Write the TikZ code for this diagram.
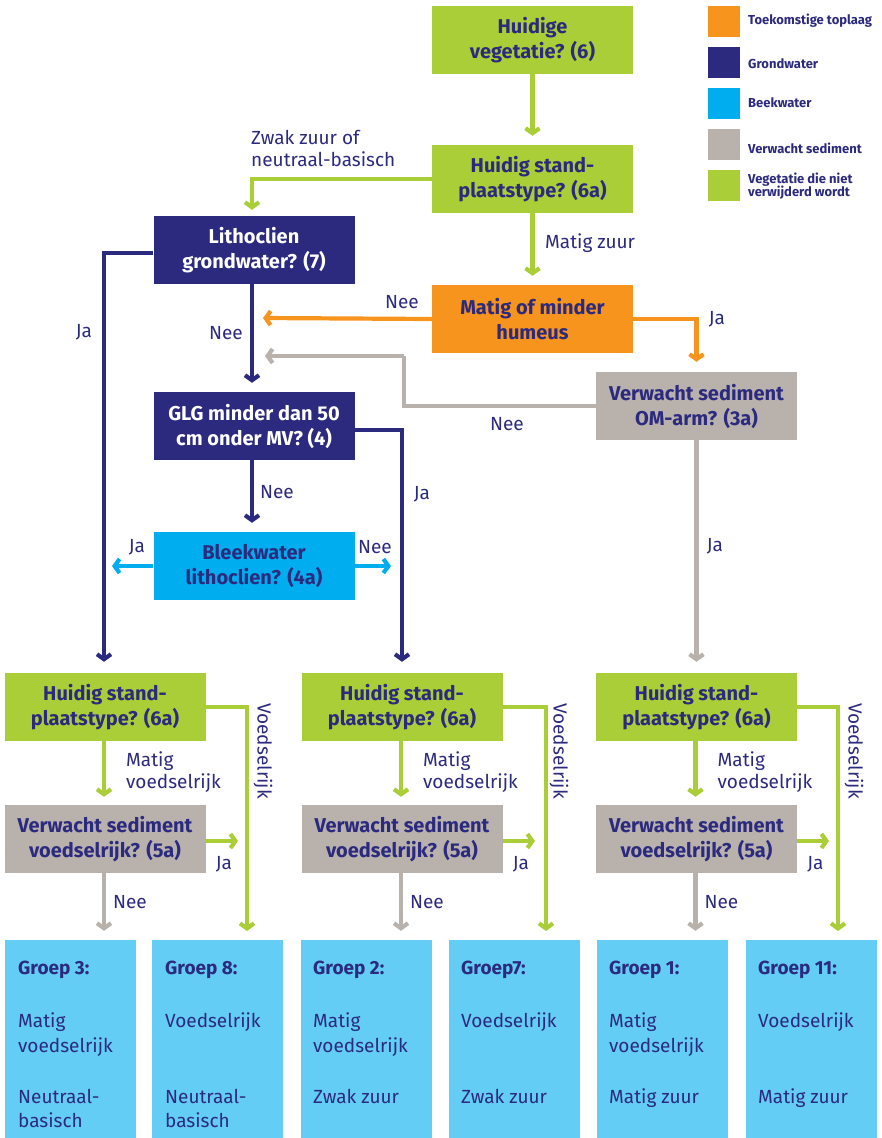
\documentclass[tikz,border=0pt]{standalone}
\usepackage{fontspec}
\setmainfont{Fira Sans}
\usetikzlibrary{arrows.meta}
\definecolor{cgreen}{HTML}{A9CE38}
\definecolor{cnavy}{HTML}{2C2A7E}
\definecolor{ccyan}{HTML}{00AEEF}
\definecolor{corange}{HTML}{F7941D}
\definecolor{cgray}{HTML}{B9B2AC}
\definecolor{csky}{HTML}{63CDF5}
\begin{document}
\begin{tikzpicture}[x=1pt,y=-1pt,
  box/.style={minimum width=201pt, minimum height=68pt, inner sep=0pt, align=center,
    font=\fontsize{20}{25}\selectfont\bfseries, text=cnavy},
  gbox/.style={draw=none, fill=csky, minimum width=131pt, minimum height=198pt, inner sep=0pt},
  arr/.style={line width=4.2pt, -{Straight Barb[length=5pt,width=14pt]}},
  seg/.style={line width=4.2pt},
  lbl/.style={font=\fontsize{19}{22}\selectfont, text=cnavy, inner sep=0pt, align=left},
  gt/.style={font=\fontsize{19}{24}\selectfont, text=cnavy, anchor=base west, inner sep=0pt},
  legsq/.style={minimum width=32pt, minimum height=31pt, inner sep=0pt},
  legt/.style={font=\fontsize{13}{14}\selectfont\bfseries, text=cnavy, anchor=west, inner sep=0pt, align=left},
]
\useasboundingbox (0,0) rectangle (881,1138);

% ---------- legend ----------
\node[legsq, fill=corange] (L1) at (724,21.5) {};
\node[legsq, fill=cnavy]   (L2) at (724,62.5) {};
\node[legsq, fill=ccyan]   (L3) at (724,103.5) {};
\node[legsq, fill=cgray]   (L4) at (724,144.5) {};
\node[legsq, fill=cgreen]  (L5) at (724,185.5) {};
\node[legt] (T1) at (748,21) {Toekomstige toplaag};
\node[legt] (T2) at (748,64) {Grondwater};
\node[legt] (T3) at (748,103) {Beekwater};
\node[legt] (T4) at (748,148) {Verwacht sediment};
\node[legt, font=\fontsize{13}{13.5}\selectfont\bfseries] (T5) at (748,186) {Vegetatie die niet\\verwijderd wordt};

% ---------- top boxes ----------
\node[box, fill=cgreen] (veg) at (532.5,40) {Huidige\\vegetatie? (6)};
\node[box, fill=cgreen] (stand) at (532.5,179) {Huidig stand-\\plaatstype? (6a)};
\node[box, fill=cnavy, text=white] (litho) at (254,250) {Lithoclien\\grondwater? (7)};
\node[box, fill=corange] (humeus) at (532.5,319) {Matig of minder\\humeus};
\node[box, fill=cgray] (om) at (696.5,406) {Verwacht sediment\\OM-arm? (3a)};
\node[box, fill=cnavy, text=white] (glg) at (254,426) {GLG minder dan 50\\cm onder MV? (4)};
\node[box, fill=ccyan] (bleek) at (254,566) {Bleekwater\\lithoclien? (4a)};

% ---------- column boxes ----------
\foreach \i/\x in {1/105,2/402,3/696.5}{
  \node[box, fill=cgreen] (h\i) at (\x,707) {Huidig stand-\\plaatstype? (6a)};
  \node[box, fill=cgray] (s\i) at (\x,839) {Verwacht sediment\\voedselrijk? (5a)};
}

% ---------- group boxes ----------
\node[gbox] (g1) at (70.5,1039) {};
\node[gbox] (g2) at (217.5,1039) {};
\node[gbox] (g3) at (366,1039) {};
\node[gbox] (g4) at (514,1039) {};
\node[gbox] (g5) at (662,1039) {};
\node[gbox] (g6) at (811,1039) {};

\node[gt, font=\fontsize{19}{24}\selectfont\bfseries] (g1a) at (18,974) {Groep 3:};
\node[gt] (g1b) at (18,1027) {Matig};
\node[gt] (g1c) at (18,1052) {voedselrijk};
\node[gt] (g1d) at (18,1103) {Neutraal-};
\node[gt] (g1e) at (18,1127) {basisch};

\node[gt, font=\fontsize{19}{24}\selectfont\bfseries] (g2a) at (165,974) {Groep 8:};
\node[gt] (g2b) at (165,1027) {Voedselrijk};
\node[gt] (g2d) at (165,1103) {Neutraal-};
\node[gt] (g2e) at (165,1127) {basisch};

\node[gt, font=\fontsize{19}{24}\selectfont\bfseries] (g3a) at (313,974) {Groep 2:};
\node[gt] (g3b) at (313,1027) {Matig};
\node[gt] (g3c) at (313,1052) {voedselrijk};
\node[gt] (g3d) at (313,1103) {Zwak zuur};

\node[gt, font=\fontsize{19}{24}\selectfont\bfseries] (g4a) at (461,974) {Groep7:};
\node[gt] (g4b) at (461,1027) {Voedselrijk};
\node[gt] (g4d) at (461,1103) {Zwak zuur};

\node[gt, font=\fontsize{19}{24}\selectfont\bfseries] (g5a) at (609,974) {Groep 1:};
\node[gt] (g5b) at (609,1027) {Matig};
\node[gt] (g5c) at (609,1052) {voedselrijk};
\node[gt] (g5d) at (609,1103) {Matig zuur};

\node[gt, font=\fontsize{19}{24}\selectfont\bfseries] (g6a) at (758,974) {Groep 11:};
\node[gt] (g6b) at (758,1027) {Voedselrijk};
\node[gt] (g6d) at (758,1103) {Matig zuur};

% ---------- coordinates for free ends ----------
\coordinate (oTip) at (263,318);
\coordinate (gBend) at (404,356);
\coordinate (gTip) at (265,356);
\coordinate (bL) at (112,566);
\coordinate (bR) at (391,566);
\coordinate (v1) at (247,931);
\coordinate (v2) at (546,931);
\coordinate (v3) at (838,931);
\coordinate (j1) at (238,841);
\coordinate (j2) at (535,841);
\coordinate (j3) at (829,841);

% ---------- connectors: top ----------
\draw[arr, cgreen, shorten >=9pt] (veg) -- (stand);
\draw[arr, cgreen, shorten >=9pt] (stand) -- (humeus);
\draw[arr, cgreen, shorten >=6pt] (stand.west) -| ([xshift=-2pt]litho.north);
\draw[arr, corange] (humeus.west) -- (oTip);
\draw[arr, corange, shorten >=10pt] (humeus.east) -| (om.north);
\draw[seg, cgray] (om.west) -| (gBend);
\draw[arr, cgray] (gBend) -- (gTip);
\draw[arr, cgray, shorten >=11pt] (om) -- (h3);
\draw[arr, cnavy, shorten >=9pt] ([xshift=-2pt]litho.south) -- ([xshift=-2pt]glg.north);
\draw[arr, cnavy, shorten >=11pt] ([yshift=-3pt]litho.west) -| ([xshift=-1pt]h1.north);
\draw[arr, cnavy, shorten >=11pt] ([yshift=-4pt]glg.east) -| (h2.north);
\draw[arr, cnavy, shorten >=9pt] ([xshift=-2pt]glg.south) -- ([xshift=-2pt]bleek.north);
\draw[arr, ccyan] (bleek.west) -- (bL);
\draw[arr, ccyan] (bleek.east) -- (bR);

% ---------- connectors: columns ----------
\foreach \i/\gl/\gr in {1/g1/g2,2/g3/g4,3/g5/g6}{
  \draw[arr, cgreen, shorten >=8pt] ([xshift=-1pt]h\i.south) -- ([xshift=-1pt]s\i.north);
  \draw[arr, cgreen] (h\i.east) -| (v\i);
  \draw[arr, cgreen] ([yshift=-2pt]s\i.east) -- (j\i);
  \draw[arr, cgray, shorten >=9pt] ([xshift=-1pt]s\i.south) -- ([xshift=-1pt]s\i.south |- \gl.north);
}

% ---------- labels ----------
\node[lbl, anchor=west] (lz) at (251,148) {Zwak zuur of\\neutraal-basisch};
\node[lbl, anchor=west] (lmz) at (545,243) {Matig zuur};
\node[lbl] (lon) at (402,302) {Nee};
\node[lbl] (loj) at (717,319) {Ja};
\node[lbl] (lgn) at (507,424) {Nee};
\node[lbl] (lgj) at (715,546) {Ja};
\node[lbl] (lln) at (226,333) {Nee};
\node[lbl] (llj) at (84,332) {Ja};
\node[lbl] (lgln) at (277,492) {Nee};
\node[lbl] (lglj) at (422,494) {Ja};
\node[lbl] (lbj) at (137,547) {Ja};
\node[lbl] (lbn) at (375,547) {Nee};

\foreach \i/\x/\lx in {1/105/263,2/402/559,3/696.5/854}{
  \node[lbl, anchor=west] (lm\i) at (\x+21,772) {Matig\\voedselrijk};
  \node[lbl, rotate=-90] (lv\i) at (\lx,751) {Voedselrijk};
  \node[lbl] (lj\i) at (\x+119,864) {Ja};
  \node[lbl] (ln\i) at (\x+25,902) {Nee};
}
\end{tikzpicture}
\end{document}
